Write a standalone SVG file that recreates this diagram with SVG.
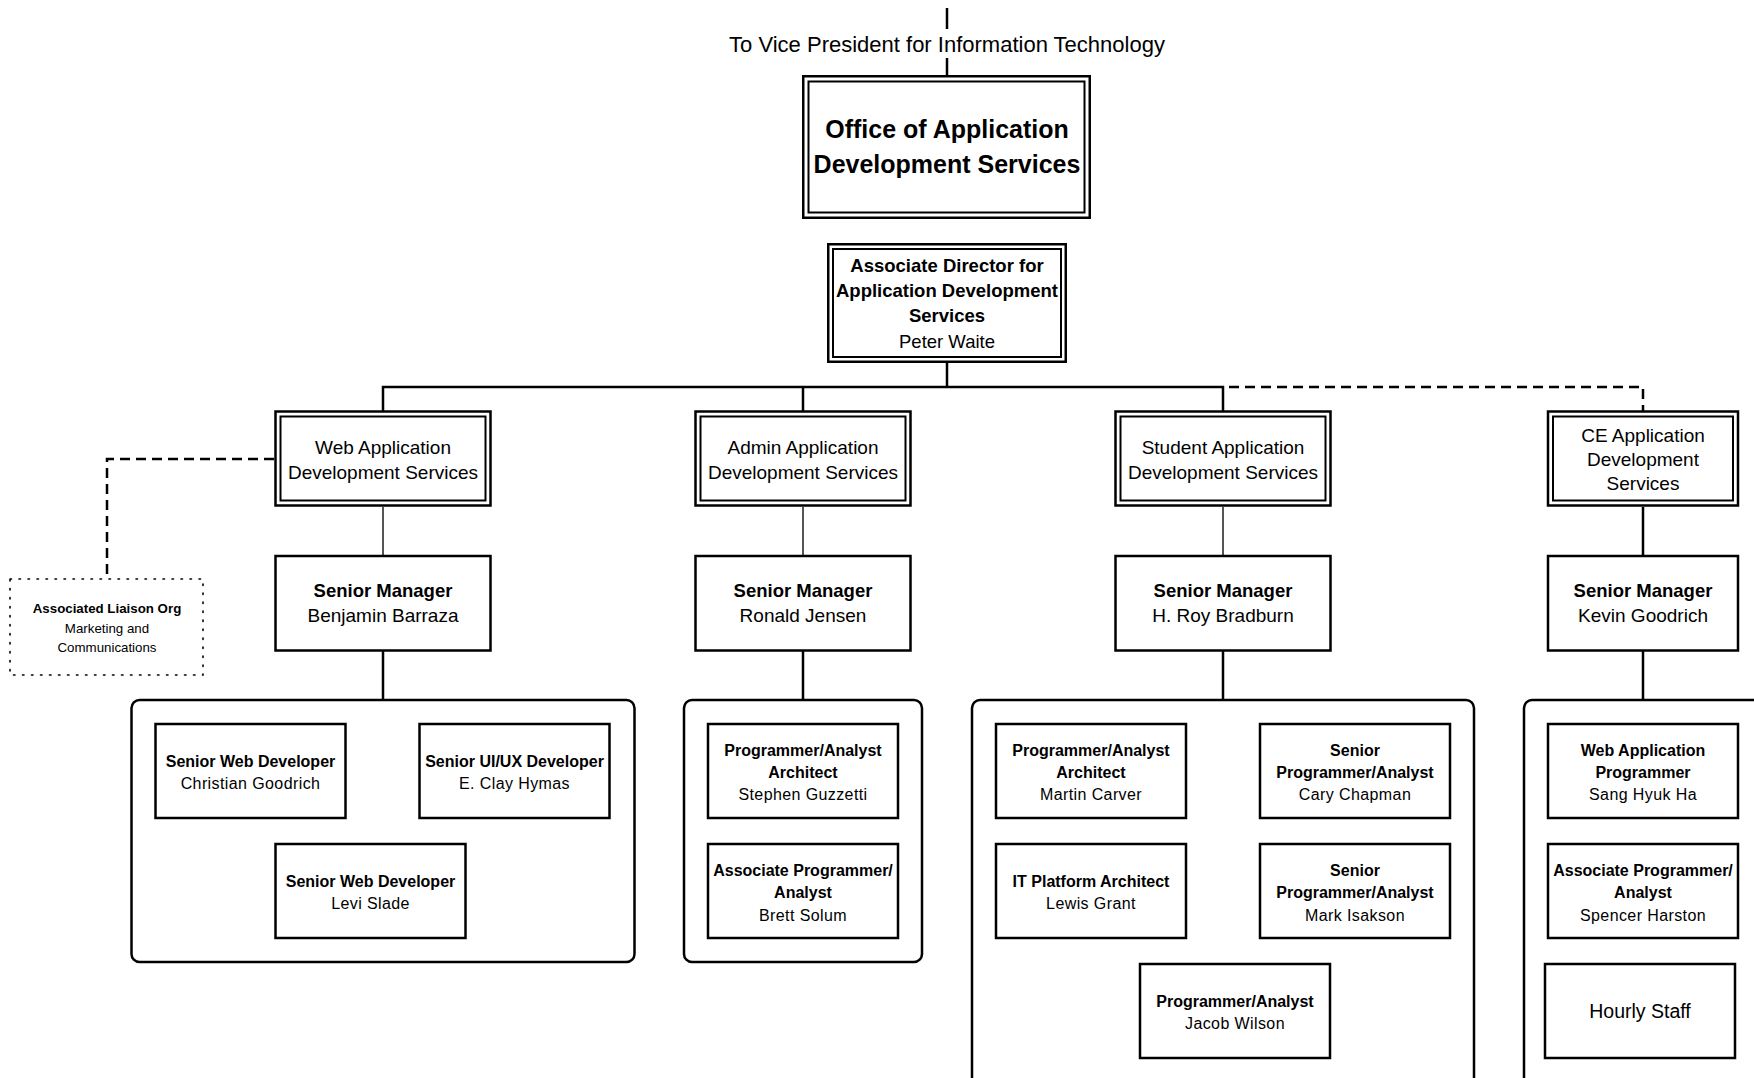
<svg xmlns="http://www.w3.org/2000/svg" width="1754" height="1078" viewBox="0 0 1754 1078">
<style>
text{font-family:"Liberation Sans",Arial,sans-serif;fill:#000;text-anchor:middle}
.b{font-weight:bold}
.box{fill:#fff;stroke:#000;stroke-width:2.5}
.in{fill:none;stroke:#000;stroke-width:2}
.cont{fill:none;stroke:#000;stroke-width:2.5}
.ln{fill:none;stroke:#000;stroke-width:2.5}
.gl{fill:none;stroke:#555;stroke-width:2}
.dash{fill:none;stroke:#000;stroke-width:2.5;stroke-dasharray:10 6}
.dot{fill:none;stroke:#000;stroke-width:1.6;stroke-dasharray:1.5 7.5;stroke-linecap:round}
.t22{font-size:22px}
.t25{font-size:25px}
.t185{font-size:18.5px}
.t19{font-size:19px}
.t16{font-size:16px}
.t13{font-size:13.3px}
.nm{font-size:16px;letter-spacing:0.4px}
</style>
<rect width="1754" height="1078" fill="#fff"/>
<g id="connectors">
<line class="ln" x1="947" y1="8" x2="947" y2="29"/>
<line class="ln" x1="947" y1="58" x2="947" y2="76"/>
<line class="ln" x1="947" y1="363" x2="947" y2="387"/>
<polyline class="ln" points="383,411 383,387 1223,387 1223,411"/>
<line class="ln" x1="803" y1="387" x2="803" y2="411"/>
<polyline class="dash" points="1229,387 1643,387 1643,411"/>
<line class="gl" x1="383" y1="507" x2="383" y2="555"/>
<line class="gl" x1="803" y1="507" x2="803" y2="555"/>
<line class="gl" x1="1223" y1="507" x2="1223" y2="555"/>
<line class="ln" x1="1643" y1="507" x2="1643" y2="555"/>
<line class="ln" x1="383" y1="651" x2="383" y2="699"/>
<line class="ln" x1="803" y1="651" x2="803" y2="699"/>
<line class="ln" x1="1223" y1="651" x2="1223" y2="699"/>
<line class="ln" x1="1643" y1="651" x2="1643" y2="699"/>
<polyline class="dash" points="274,459 107,459 107,579"/>
</g>
<text class="t22" x="947" y="52">To Vice President for Information Technology</text>
<g id="office">
<rect class="box" x="803.25" y="76.25" width="286.5" height="141.5"/>
<rect class="in" x="808.5" y="81.5" width="276" height="131"/>
<text class="b t25" x="947" y="138">Office of Application</text>
<text class="b t25" x="947" y="173">Development Services</text>
</g>
<g id="assoc-director">
<rect class="box" x="828.25" y="244.25" width="237.5" height="117.5"/>
<rect class="in" x="833" y="249" width="228" height="108"/>
<text class="b t185" x="947" y="272">Associate Director for</text>
<text class="b t185" x="947" y="297">Application Development</text>
<text class="b t185" x="947" y="322">Services</text>
<text class="t185" x="947" y="348">Peter Waite</text>
</g>
<g id="web-ads">
<rect class="box" x="275.5" y="411.5" width="215" height="94"/>
<rect class="in" x="280.5" y="416.5" width="205" height="84"/>
<text class="t19" x="383" y="454">Web Application</text>
<text class="t19" x="383" y="479">Development Services</text>
</g>
<g id="admin-ads">
<rect class="box" x="695.5" y="411.5" width="215" height="94"/>
<rect class="in" x="700.5" y="416.5" width="205" height="84"/>
<text class="t19" x="803" y="454">Admin Application</text>
<text class="t19" x="803" y="479">Development Services</text>
</g>
<g id="student-ads">
<rect class="box" x="1115.5" y="411.5" width="215" height="94"/>
<rect class="in" x="1120.5" y="416.5" width="205" height="84"/>
<text class="t19" x="1223" y="454">Student Application</text>
<text class="t19" x="1223" y="479">Development Services</text>
</g>
<g id="ce-ads">
<rect class="box" x="1548" y="411.5" width="190" height="94"/>
<rect class="in" x="1553" y="416.5" width="180" height="84"/>
<text class="t19" x="1643" y="442">CE Application</text>
<text class="t19" x="1643" y="466">Development</text>
<text class="t19" x="1643" y="490">Services</text>
</g>
<g id="liaison">
<rect class="dot" x="10" y="579" width="193" height="96"/>
<text class="b t13" x="107" y="613">Associated Liaison Org</text>
<text class="t13" x="107" y="633">Marketing and</text>
<text class="t13" x="107" y="652">Communications</text>
</g>
<g id="sm-web">
<rect class="box" x="275.5" y="556" width="215" height="94.5"/>
<text class="b t185" x="383" y="597">Senior Manager</text>
<text class="t19" x="383" y="622">Benjamin Barraza</text>
</g>
<g id="sm-admin">
<rect class="box" x="695.5" y="556" width="215" height="94.5"/>
<text class="b t185" x="803" y="597">Senior Manager</text>
<text class="t19" x="803" y="622">Ronald Jensen</text>
</g>
<g id="sm-student">
<rect class="box" x="1115.5" y="556" width="215" height="94.5"/>
<text class="b t185" x="1223" y="597">Senior Manager</text>
<text class="t19" x="1223" y="622">H. Roy Bradburn</text>
</g>
<g id="sm-ce">
<rect class="box" x="1548" y="556" width="190" height="94.5"/>
<text class="b t185" x="1643" y="597">Senior Manager</text>
<text class="t19" x="1643" y="622">Kevin Goodrich</text>
</g>
<g id="web-team">
<rect class="cont" x="131.5" y="700" width="503" height="262" rx="8"/>
<g id="web-1">
<rect class="box" x="155.5" y="724" width="190" height="94"/>
<text class="b t16" x="250.5" y="767">Senior Web Developer</text>
<text class="nm" x="250.5" y="788.5">Christian Goodrich</text>
</g>
<g id="web-2">
<rect class="box" x="419.5" y="724" width="190" height="94"/>
<text class="b t16" x="514.5" y="767">Senior UI/UX Developer</text>
<text class="nm" x="514.5" y="788.5">E. Clay Hymas</text>
</g>
<g id="web-3">
<rect class="box" x="275.5" y="844" width="190" height="94"/>
<text class="b t16" x="370.5" y="887">Senior Web Developer</text>
<text class="nm" x="370.5" y="908.5">Levi Slade</text>
</g>
</g>
<g id="admin-team">
<rect class="cont" x="684" y="700" width="238" height="262" rx="8"/>
<g id="admin-1">
<rect class="box" x="708" y="724" width="190" height="94"/>
<text class="b t16" x="803" y="756">Programmer/Analyst</text>
<text class="b t16" x="803" y="777.7">Architect</text>
<text class="nm" x="803" y="800">Stephen Guzzetti</text>
</g>
<g id="admin-2">
<rect class="box" x="708" y="844" width="190" height="94"/>
<text class="b t16" x="803" y="876">Associate Programmer/</text>
<text class="b t16" x="803" y="897.5">Analyst</text>
<text class="nm" x="803" y="920.5">Brett Solum</text>
</g>
</g>
<g id="student-team">
<rect class="cont" x="972" y="700" width="502" height="420" rx="8"/>
<g id="student-1">
<rect class="box" x="996" y="724" width="190" height="94"/>
<text class="b t16" x="1091" y="756">Programmer/Analyst</text>
<text class="b t16" x="1091" y="777.7">Architect</text>
<text class="nm" x="1091" y="800">Martin Carver</text>
</g>
<g id="student-2">
<rect class="box" x="1260" y="724" width="190" height="94"/>
<text class="b t16" x="1355" y="756">Senior</text>
<text class="b t16" x="1355" y="777.7">Programmer/Analyst</text>
<text class="nm" x="1355" y="800">Cary Chapman</text>
</g>
<g id="student-3">
<rect class="box" x="996" y="844" width="190" height="94"/>
<text class="b t16" x="1091" y="887">IT Platform Architect</text>
<text class="nm" x="1091" y="908.5">Lewis Grant</text>
</g>
<g id="student-4">
<rect class="box" x="1260" y="844" width="190" height="94"/>
<text class="b t16" x="1355" y="876">Senior</text>
<text class="b t16" x="1355" y="897.5">Programmer/Analyst</text>
<text class="nm" x="1355" y="920.5">Mark Isakson</text>
</g>
<g id="student-5">
<rect class="box" x="1140" y="964" width="190" height="94"/>
<text class="b t16" x="1235" y="1007">Programmer/Analyst</text>
<text class="nm" x="1235" y="1028.5">Jacob Wilson</text>
</g>
</g>
<g id="ce-team">
<rect class="cont" x="1524" y="700" width="300" height="420" rx="8"/>
<g id="ce-1">
<rect class="box" x="1548" y="724" width="190" height="94"/>
<text class="b t16" x="1643" y="756">Web Application</text>
<text class="b t16" x="1643" y="777.7">Programmer</text>
<text class="nm" x="1643" y="800">Sang Hyuk Ha</text>
</g>
<g id="ce-2">
<rect class="box" x="1548" y="844" width="190" height="94"/>
<text class="b t16" x="1643" y="876">Associate Programmer/</text>
<text class="b t16" x="1643" y="897.5">Analyst</text>
<text class="nm" x="1643" y="920.5">Spencer Harston</text>
</g>
<g id="ce-3">
<rect class="box" x="1545" y="964" width="190" height="94"/>
<text style="font-size:19.5px" x="1640" y="1018">Hourly Staff</text>
</g>
</g>
</svg>
